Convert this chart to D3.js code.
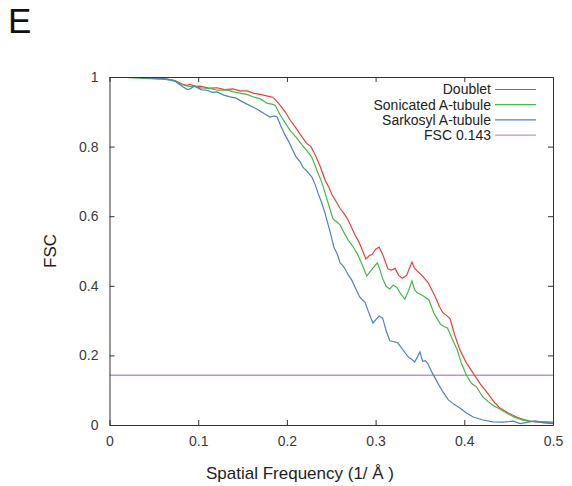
<!DOCTYPE html>
<html lang="en">
<head>
    <meta charset="UTF-8">
    <title>FSC curves</title>
    <script src="https://d3js.org/d3.v7.min.js"></script>
    <style>
        body {
            margin: 0;
            background: #fff;
            font-family: "Liberation Sans", Arial, sans-serif;
        }
        .axis text {
            font-family: "Liberation Sans", Arial, sans-serif;
            font-size: 14px;
            fill: #3a3a3a;
        }
        .axis path, .axis line {
            stroke: #333;
        }
        .curve {
            fill: none;
            stroke-width: 1.2px;
        }
        .legend text {
            font-size: 14px;
            fill: #222;
        }
    </style>
</head>
<body>
    <svg id="chart" width="572" height="486"></svg>
    <script>
        // [spatial frequency (1/Å), FSC]
        const doublet = [
            [0.021, 1.0], [0.046, 0.998], [0.063, 0.995], [0.074, 0.99], [0.082, 0.98],
            [0.087, 0.976], [0.091, 0.979], [0.096, 0.973], [0.102, 0.974], [0.112, 0.968],
            [0.121, 0.969], [0.13, 0.964], [0.139, 0.966], [0.147, 0.96], [0.155, 0.96],
            [0.163, 0.953], [0.17, 0.95], [0.177, 0.946], [0.184, 0.942], [0.188, 0.932],
            [0.192, 0.92], [0.198, 0.9], [0.204, 0.875], [0.209, 0.858], [0.215, 0.835],
            [0.222, 0.81], [0.227, 0.8], [0.232, 0.776], [0.238, 0.74], [0.243, 0.704],
            [0.247, 0.685], [0.251, 0.661], [0.256, 0.64], [0.26, 0.622], [0.265, 0.605],
            [0.269, 0.589], [0.273, 0.567], [0.277, 0.545], [0.281, 0.527], [0.285, 0.503],
            [0.289, 0.477], [0.293, 0.487], [0.296, 0.49], [0.3, 0.505], [0.304, 0.511],
            [0.308, 0.49], [0.314, 0.448], [0.318, 0.445], [0.322, 0.45], [0.326, 0.43],
            [0.33, 0.422], [0.335, 0.43], [0.338, 0.45], [0.341, 0.468], [0.344, 0.45],
            [0.347, 0.442], [0.353, 0.428], [0.359, 0.41], [0.363, 0.39], [0.367, 0.37],
            [0.372, 0.34], [0.376, 0.322], [0.38, 0.315], [0.384, 0.305], [0.389, 0.26],
            [0.395, 0.216], [0.402, 0.18], [0.41, 0.149], [0.418, 0.118], [0.426, 0.092],
            [0.433, 0.068], [0.44, 0.049], [0.449, 0.035], [0.459, 0.023], [0.466, 0.016],
            [0.474, 0.011], [0.483, 0.008], [0.491, 0.006], [0.5, 0.004]
        ];
        const sonicated = [
            [0.021, 0.998], [0.063, 0.993], [0.074, 0.988], [0.082, 0.978], [0.088, 0.974],
            [0.094, 0.973], [0.103, 0.969], [0.113, 0.967], [0.122, 0.962], [0.132, 0.963],
            [0.142, 0.956], [0.155, 0.95], [0.163, 0.942], [0.17, 0.937], [0.178, 0.924],
            [0.183, 0.922], [0.187, 0.918], [0.192, 0.893], [0.198, 0.868], [0.204, 0.845],
            [0.21, 0.828], [0.217, 0.805], [0.222, 0.79], [0.228, 0.77], [0.235, 0.724],
            [0.239, 0.7], [0.243, 0.667], [0.248, 0.625], [0.252, 0.592], [0.256, 0.584],
            [0.26, 0.575], [0.264, 0.555], [0.269, 0.532], [0.274, 0.515], [0.28, 0.489],
            [0.285, 0.46], [0.29, 0.428], [0.296, 0.448], [0.302, 0.466], [0.305, 0.445],
            [0.308, 0.42], [0.312, 0.398], [0.316, 0.391], [0.32, 0.402], [0.324, 0.395],
            [0.328, 0.378], [0.333, 0.362], [0.337, 0.385], [0.341, 0.414], [0.344, 0.388],
            [0.347, 0.38], [0.353, 0.372], [0.36, 0.36], [0.366, 0.32], [0.373, 0.29],
            [0.377, 0.283], [0.381, 0.279], [0.386, 0.25], [0.392, 0.216], [0.397, 0.175],
            [0.403, 0.14], [0.408, 0.12], [0.414, 0.109], [0.418, 0.092], [0.421, 0.08],
            [0.432, 0.057], [0.44, 0.046], [0.448, 0.034], [0.457, 0.022], [0.466, 0.014],
            [0.474, 0.011], [0.482, 0.009], [0.491, 0.01], [0.5, 0.008]
        ];
        const sarkosyl = [
            [0.021, 1.0], [0.046, 0.997], [0.065, 0.994], [0.074, 0.988], [0.083, 0.971],
            [0.088, 0.964], [0.091, 0.966], [0.096, 0.975], [0.1, 0.968], [0.104, 0.963],
            [0.11, 0.962], [0.116, 0.956], [0.121, 0.957], [0.129, 0.948], [0.136, 0.943],
            [0.142, 0.94], [0.149, 0.93], [0.155, 0.922], [0.16, 0.916], [0.166, 0.908],
            [0.171, 0.9], [0.176, 0.892], [0.181, 0.885], [0.186, 0.888], [0.189, 0.885],
            [0.193, 0.86], [0.198, 0.833], [0.202, 0.815], [0.206, 0.793], [0.21, 0.772],
            [0.215, 0.756], [0.218, 0.741], [0.223, 0.728], [0.228, 0.713], [0.232, 0.69],
            [0.235, 0.667], [0.239, 0.64], [0.243, 0.609], [0.246, 0.58], [0.249, 0.552],
            [0.253, 0.511], [0.257, 0.49], [0.26, 0.466], [0.263, 0.458], [0.265, 0.451],
            [0.269, 0.432], [0.273, 0.417], [0.277, 0.395], [0.282, 0.368], [0.285, 0.36],
            [0.288, 0.353], [0.292, 0.325], [0.297, 0.293], [0.301, 0.305], [0.304, 0.313],
            [0.308, 0.307], [0.312, 0.27], [0.316, 0.242], [0.32, 0.24], [0.325, 0.236],
            [0.331, 0.215], [0.337, 0.195], [0.341, 0.188], [0.344, 0.181], [0.347, 0.195],
            [0.35, 0.21], [0.353, 0.183], [0.356, 0.185], [0.359, 0.176], [0.364, 0.149],
            [0.37, 0.121], [0.376, 0.095], [0.382, 0.072], [0.388, 0.06], [0.395, 0.049],
            [0.402, 0.035], [0.41, 0.023], [0.42, 0.015], [0.432, 0.009], [0.444, 0.008],
            [0.455, 0.011], [0.463, 0.004], [0.472, 0.008], [0.48, 0.012], [0.49, 0.007],
            [0.5, 0.006]
        ];
        const threshold = 0.143;

        const seriesNames = ["Doublet", "Sonicated A-tubule", "Sarkosyl A-tubule", "FSC 0.143"];
        const seriesColors = ["#e8413c", "#45b84a", "#4f81c4", "#b897c9"];
        const xTicks = [0, 0.1, 0.2, 0.3, 0.4, 0.5];
        const yTicks = [0, 0.2, 0.4, 0.6, 0.8, 1];

        const margin = { left: 109.5, right: 19, top: 77, bottom: 61 };
        const W = 572, H = 486;

        const svg = d3.select("#chart");

        const x = d3.scaleLinear().domain([0, 0.5]).range([margin.left, W - margin.right]);
        const y = d3.scaleLinear().domain([0, 1]).range([H - margin.bottom, margin.top]);

        // panel letter
        svg.append("text")
            .attr("x", 8)
            .attr("y", 33)
            .style("font-size", "35px")
            .style("fill", "#111")
            .text("E");

        svg.append("clipPath").attr("id", "clip")
            .append("rect")
            .attr("x", x(0)).attr("y", y(1))
            .attr("width", x(0.5) - x(0)).attr("height", y(0) - y(1));

        // threshold line
        svg.append("line")
            .attr("x1", x(0)).attr("x2", x(0.5))
            .attr("y1", y(threshold)).attr("y2", y(threshold))
            .attr("stroke", seriesColors[3])
            .attr("stroke-width", 1.3);

        const line = d3.line().x(d => x(d[0])).y(d => y(d[1]));
        [doublet, sonicated, sarkosyl].forEach((data, i) => {
            svg.append("path")
                .datum(data)
                .attr("class", "curve")
                .attr("clip-path", "url(#clip)")
                .attr("stroke", seriesColors[i])
                .attr("d", line);
        });

        // axes, ticks inward on all four sides
        svg.append("g")
            .attr("class", "axis")
            .attr("transform", `translate(0,${y(0)})`)
            .call(d3.axisBottom(x).tickValues(xTicks).tickFormat(d3.format("~g"))
                .tickSizeInner(-5).tickSizeOuter(0).tickPadding(11));
        svg.append("g")
            .attr("class", "axis")
            .attr("transform", `translate(${x(0)},0)`)
            .call(d3.axisLeft(y).tickValues(yTicks).tickFormat(d3.format("~g"))
                .tickSizeInner(-5).tickSizeOuter(0).tickPadding(11));
        svg.append("g")
            .attr("class", "axis")
            .attr("transform", `translate(0,${y(1)})`)
            .call(d3.axisTop(x).tickValues(xTicks).tickFormat("")
                .tickSizeInner(-5).tickSizeOuter(0));
        svg.append("g")
            .attr("class", "axis")
            .attr("transform", `translate(${x(0.5)},0)`)
            .call(d3.axisRight(y).tickValues(yTicks).tickFormat("")
                .tickSizeInner(-5).tickSizeOuter(0));

        // axis titles
        svg.append("text")
            .attr("x", 300)
            .attr("y", 479)
            .attr("text-anchor", "middle")
            .style("font-size", "17px")
            .style("fill", "#222")
            .text("Spatial Frequency (1/ Å )");
        svg.append("text")
            .attr("transform", `translate(55.5,${(y(0) + y(1)) / 2}) rotate(-90)`)
            .attr("text-anchor", "middle")
            .style("font-size", "17px")
            .style("fill", "#222")
            .text("FSC");

        // legend
        const legend = svg.append("g").attr("class", "legend");
        seriesNames.forEach((name, i) => {
            const ly = 89.5 + i * 15.2;
            legend.append("text")
                .attr("x", 491)
                .attr("y", ly)
                .attr("dy", "0.35em")
                .attr("text-anchor", "end")
                .text(name);
            legend.append("line")
                .attr("x1", 495).attr("x2", 536)
                .attr("y1", ly).attr("y2", ly)
                .attr("stroke", seriesColors[i])
                .attr("stroke-width", 1.2);
        });
    </script>
</body>
</html>
